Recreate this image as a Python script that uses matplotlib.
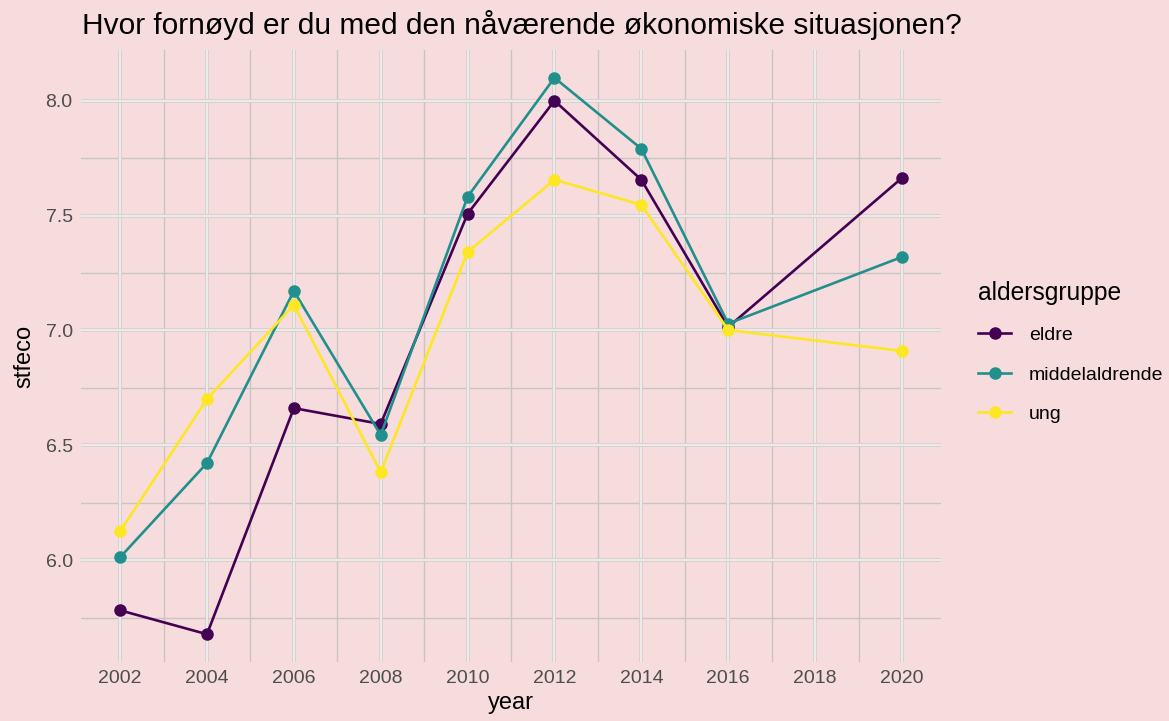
import numpy as np
import matplotlib.pyplot as plt

plt.rcParams['font.family'] = ['Liberation Sans', 'DejaVu Sans']

years = [2002, 2004, 2006, 2008, 2010, 2012, 2014, 2016, 2020]
eldre = [5.782, 5.678, 6.662, 6.593, 7.508, 8.000, 7.656, 7.015, 7.664]
middelaldrende = [6.013, 6.423, 7.172, 6.545, 7.582, 8.100, 7.791, 7.030, 7.320]
ung = [6.126, 6.702, 7.111, 6.383, 7.342, 7.656, 7.547, 7.002, 6.911]

groups = ["eldre", "middelaldrende", "ung"]
colors = ["#440154", "#21908C", "#FDE725"]

bg = "#F7DCDD"

fig = plt.figure(figsize=(11.69, 7.21), dpi=100, facecolor=bg)
ax = fig.add_axes([0.0693, 0.0818, 0.7357, 0.8489])
ax.set_facecolor(bg)

ax.set_xlim(2001.1, 2020.9)
ax.set_ylim(5.557, 8.221)

# grid: major lines with light centre, minor plain grey
for v in np.arange(2003, 2021, 2):
    ax.axvline(v, color="#CAC3C3", lw=1.0, zorder=0)
for v in np.arange(5.75, 8.2, 0.5):
    ax.axhline(v, color="#CAC3C3", lw=1.0, zorder=0)
for v in np.arange(2002, 2021, 2):
    ax.axvline(v, color="#CDC7C7", lw=2.6, zorder=0)
    ax.axvline(v, color="#EDEAEA", lw=1.7, zorder=0)
for v in np.arange(6.0, 8.1, 0.5):
    ax.axhline(v, color="#CDC7C7", lw=2.6, zorder=0)
    ax.axhline(v, color="#EDEAEA", lw=1.7, zorder=0)

series = [eldre, middelaldrende, ung]
for name, vals, c in zip(groups, series, colors):
    ax.plot(years, vals, color=c, lw=1.9, marker="o", markersize=8, label=name, zorder=3)

for s in ax.spines.values():
    s.set_visible(False)
ax.tick_params(which="both", length=0, labelsize=14, labelcolor="#4D4D4D", pad=6)
ax.set_xticks(np.arange(2002, 2021, 2))
ax.set_yticks([6.0, 6.5, 7.0, 7.5, 8.0])
ax.set_yticklabels(["6.0", "6.5", "7.0", "7.5", "8.0"])

ax.set_xlabel("year", fontsize=17, labelpad=3)
ax.set_ylabel("stfeco", fontsize=17, labelpad=7)
fig.text(0.070, 0.966, "Hvor fornøyd er du med den nåværende økonomiske situasjonen?",
         fontsize=21.5, ha="left", va="center")

leg = ax.legend(loc="center left", bbox_to_anchor=(0.8285, 0.512),
                bbox_transform=fig.transFigure, frameon=False, borderpad=0,
                title="aldersgruppe", fontsize=14, title_fontsize=17.7,
                handlelength=1.7, handletextpad=0.9, labelspacing=1.12,
                alignment="left")

fig.savefig("out.png", dpi=100, facecolor=bg)
